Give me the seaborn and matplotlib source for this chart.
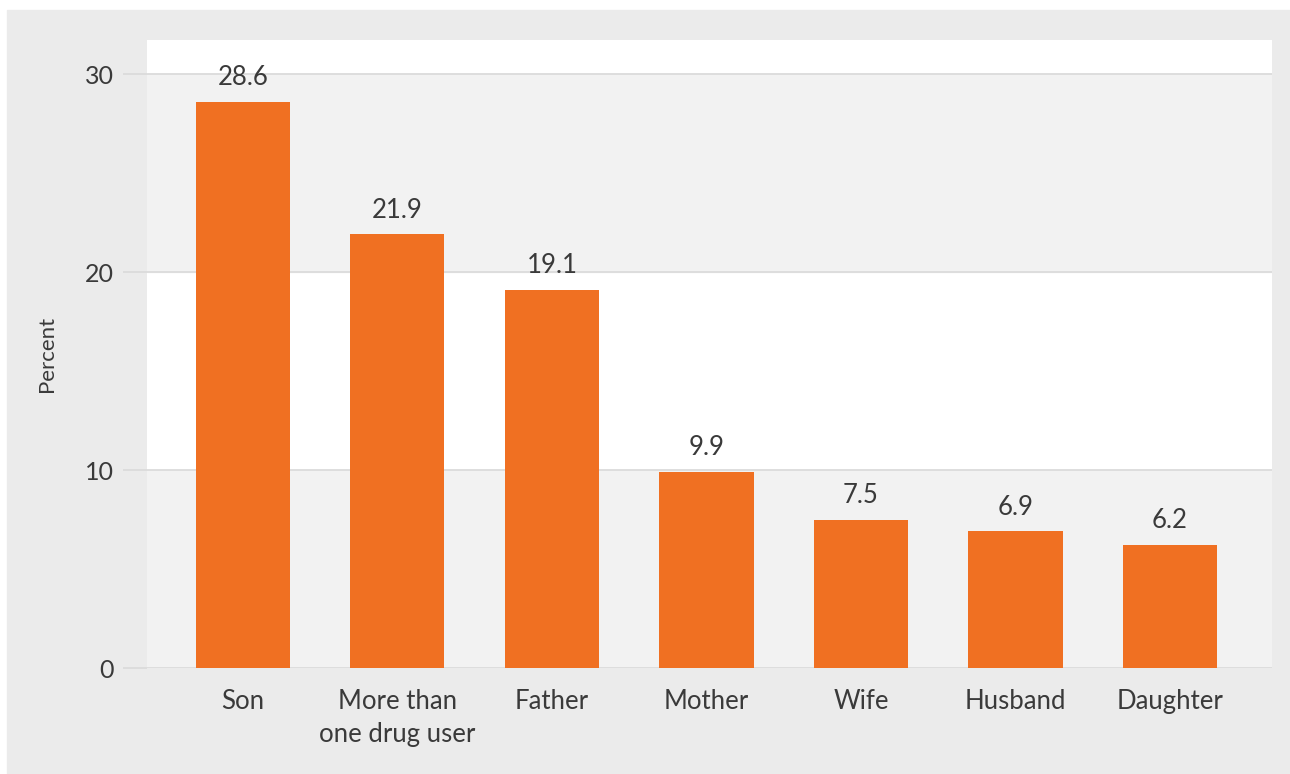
import matplotlib
matplotlib.use("Agg")
import matplotlib.pyplot as plt
import seaborn as sns
import pandas as pd

categories = ["Son", "More than\none drug user", "Father", "Mother", "Wife", "Husband", "Daughter"]
values = [28.6, 21.9, 19.1, 9.9, 7.5, 6.9, 6.2]
yticks = [0, 10, 20, 30]

df = pd.DataFrame({"cat": categories, "val": values})

sns.set_style("white")
plt.rcParams["font.family"] = ["Lato", "DejaVu Sans"]

fig = plt.figure(figsize=(12.9, 7.74), dpi=100)
fig.patch.set_facecolor("white")
# outer gray panel
fig.add_artist(plt.Rectangle((7/1290, 0), 1 - 7/1290, 1 - 10/774,
                             transform=fig.transFigure, color="#ebebeb", zorder=-10))

ax = fig.add_axes([147/1290, 1 - 668/774, (1272 - 147)/1290, (668 - 40)/774])
ax.set_facecolor("white")

ax.axhspan(0, 10, color="#f2f2f2", zorder=0)
ax.axhspan(20, 30, color="#f2f2f2", zorder=0)
for y in yticks:
    ax.axhline(y, color="#d9d9d9", lw=1.2, zorder=0.5)

sns.barplot(data=df, x="cat", y="val", color="#f07022", saturation=1,
            width=0.61, ax=ax, zorder=2, linewidth=0, edgecolor="none")
ax.set_ylim(0, 31.72)
ax.set_xlim(-0.62, 6.66)

for i, v in enumerate(values):
    ax.text(i, v + 0.6, f"{v:.1f}", ha="center", va="bottom",
            fontsize=18.5, color="#3a3a3a")

ax.set_yticks(yticks)
ax.set_yticklabels([str(t) for t in yticks], fontsize=18, color="#3a3a3a")
ax.tick_params(axis="y", length=17, color="#d9d9d9", width=1.2, pad=7, left=True)
ax.tick_params(axis="x", length=0, pad=15, labelsize=18.5, labelcolor="#3a3a3a")
for lbl in ax.get_xticklabels():
    lbl.set_verticalalignment("top")
    lbl.set_linespacing(1.42)
ax.set_xlabel("")
ax.set_ylabel("Percent", fontsize=16, color="#3a3a3a", labelpad=20)
for s in ax.spines.values():
    s.set_visible(False)

fig.savefig("out.png", dpi=100, facecolor=fig.get_facecolor())
